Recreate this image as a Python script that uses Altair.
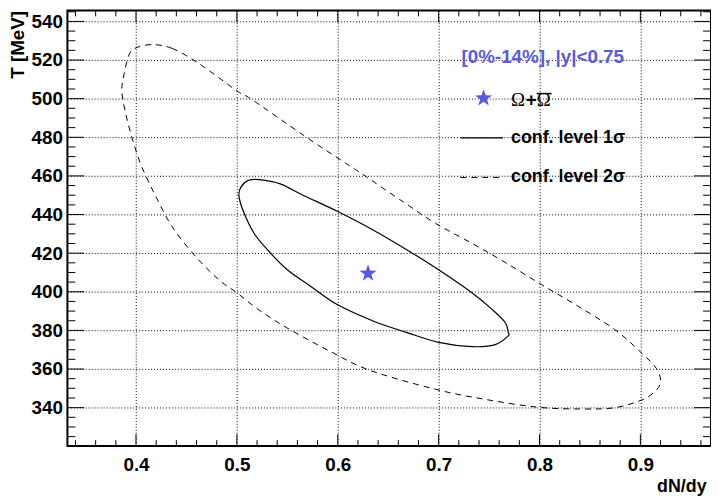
import altair as alt
import pandas as pd

# ---------------- data ----------------
# 1 sigma contour (solid)
c1_x = [0.522, 0.543, 0.566, 0.599, 0.635, 0.674, 0.700, 0.733, 0.753, 0.766, 0.769, 0.769,
        0.756, 0.733, 0.700, 0.668, 0.635, 0.599, 0.573, 0.550, 0.532, 0.517, 0.506, 0.502,
        0.504, 0.511]
c1_y = [458.1, 455.9, 449.9, 441.8, 432.0, 420.0, 411.4, 399.5, 390.9, 384.1, 379.0, 377.2,
        372.6, 371.6, 373.8, 379.0, 384.9, 393.5, 402.9, 411.4, 420.8, 430.3, 442.2, 449.9,
        454.2, 457.6]

# 2 sigma contour (dashed)
c2_x = [0.416, 0.436, 0.462, 0.501, 0.515, 0.567, 0.609, 0.622, 0.665, 0.697, 0.733, 0.766,
        0.802, 0.838, 0.875, 0.901, 0.916, 0.920, 0.914, 0.901, 0.875, 0.842, 0.799, 0.746,
        0.697, 0.632, 0.593, 0.549, 0.521, 0.500, 0.482, 0.459, 0.436, 0.420, 0.406, 0.397,
        0.390, 0.386, 0.388, 0.393, 0.400]
c2_y = [528.0, 526.0, 518.3, 503.7, 499.5, 480.7, 466.2, 461.8, 446.5, 435.4, 425.1, 415.2,
        403.7, 392.6, 380.3, 368.4, 360.2, 353.3, 348.2, 343.9, 340.0, 339.3, 340.2, 344.3,
        349.5, 359.3, 369.0, 381.5, 390.9, 399.5, 406.3, 418.3, 433.6, 449.0, 464.4, 478.1,
        491.8, 503.7, 512.3, 522.6, 526.3]

# best-fit point
star_x = [0.630]
star_y = [409.5]

# axis ticks
x_major = [0.4, 0.5, 0.6, 0.7, 0.8, 0.9]
x_minor = [0.34, 0.36, 0.38, 0.42, 0.44, 0.46, 0.48, 0.52, 0.54, 0.56, 0.58, 0.62, 0.64,
           0.66, 0.68, 0.72, 0.74, 0.76, 0.78, 0.82, 0.84, 0.86, 0.88, 0.92, 0.94, 0.96]
y_major = [340, 360, 380, 400, 420, 440, 460, 480, 500, 520, 540]
y_minor = [325, 330, 335, 345, 350, 355, 365, 370, 375, 385, 390, 395, 405, 410, 415, 425,
           430, 435, 445, 450, 455, 465, 470, 475, 485, 490, 495, 505, 510, 515, 525, 530,
           535, 545]

header_text = "[0%-14%], |y|<0.75"
omega_text = "\u03a9"
plus_text = "+"
label_1s = "conf. level 1\u03c3"
label_2s = "conf. level 2\u03c3"

# ---------------- chart ----------------
W, H = 650, 440
BLUE = "#5b5bd9"
FONT = "Liberation Sans"
STAR = ("M0,-1L0.235,-0.324L0.951,-0.309L0.38,0.124L0.588,0.809L0,0.4"
        "L-0.588,0.809L-0.38,0.124L-0.951,-0.309L-0.235,-0.324Z")

xs = alt.Scale(domain=[0.332, 0.970], nice=False, zero=False)
ys = alt.Scale(domain=[320.1, 545.7], nice=False, zero=False)

df1 = pd.DataFrame({"x": c1_x, "y": c1_y, "i": list(range(len(c1_x)))})
df2 = pd.DataFrame({"x": c2_x, "y": c2_y, "i": list(range(len(c2_x)))})
dfs = pd.DataFrame({"x": star_x, "y": star_y})
one = pd.DataFrame({"a": [0]})

x_axis = alt.Axis(values=x_major, format=".1f", title="dN/dy", grid=True, ticks=False,
                  domain=False, labelPadding=10, orient="bottom",
                  titleAnchor="end", titleAlign="right", titleBaseline="alphabetic",
                  titleFontSize=18, titleX=645, titleY=46)
y_axis = alt.Axis(values=y_major, format="d", title="T [MeV]", grid=True, ticks=False,
                  domain=False, labelPadding=5, orient="left",
                  titleAngle=270, titleAlign="right", titleBaseline="alphabetic",
                  titleX=-44, titleY=0)

X = alt.X("x:Q", scale=xs, axis=x_axis)
Y = alt.Y("y:Q", scale=ys, axis=y_axis)

c2 = alt.Chart(df2).mark_line(interpolate="cardinal-closed", color="black",
                              strokeWidth=1, strokeDash=[6, 5]).encode(
    x=X, y=Y, order="i:Q",
)
c1 = alt.Chart(df1).mark_line(interpolate="cardinal-closed", color="black",
                              strokeWidth=1.2).encode(
    x=X, y=Y, order="i:Q",
)
star = alt.Chart(dfs).mark_point(shape=STAR, filled=True, color=BLUE, size=330,
                                 opacity=1, strokeWidth=0).encode(x=X, y=Y)

def xticks(vals, length):
    d = pd.DataFrame({"x": vals})
    bot = alt.Chart(d).mark_rule(color="black", strokeWidth=1).encode(
        x=X, y=alt.value(H), y2=alt.value(H - length))
    top = alt.Chart(d).mark_rule(color="black", strokeWidth=1).encode(
        x=X, y=alt.value(0), y2=alt.value(length))
    return [bot, top]

def yticks(vals, length):
    d = pd.DataFrame({"y": vals})
    left = alt.Chart(d).mark_rule(color="black", strokeWidth=1).encode(
        y=Y, x=alt.value(0), x2=alt.value(length))
    right = alt.Chart(d).mark_rule(color="black", strokeWidth=1).encode(
        y=Y, x=alt.value(W), x2=alt.value(W - length))
    return [left, right]

ticks = xticks(x_major, 12) + xticks(x_minor, 6) + yticks(y_major, 17) + yticks(y_minor, 8)

def txt(s, x, y, color="black", size=18, font=FONT, weight="bold"):
    return alt.Chart(one).mark_text(text=s, align="left", baseline="middle", color=color,
                                    fontSize=size, font=font, fontWeight=weight).encode(
        x=alt.value(x), y=alt.value(y))

header = txt(header_text, 398, 47.5, color=BLUE, size=19)
leg_star = alt.Chart(one).mark_point(shape=STAR, filled=True, color=BLUE, size=330,
                                     opacity=1, strokeWidth=0).encode(
    x=alt.value(420.3), y=alt.value(88.7))
omega1 = txt(omega_text, 448, 90.5, size=19, font="Liberation Serif", weight="normal")
plus = txt(plus_text, 463, 90.5, size=19)
omega2 = txt(omega_text, 474, 90.5, size=19, font="Liberation Serif", weight="normal")
overline = alt.Chart(one).mark_rule(color="black", strokeWidth=1.5).encode(
    x=alt.value(474), x2=alt.value(489), y=alt.value(84))
leg1_line = alt.Chart(one).mark_rule(color="black", strokeWidth=1.2).encode(
    x=alt.value(397), x2=alt.value(440), y=alt.value(128.7))
leg1_txt = txt(label_1s, 448, 128.7)
leg2_line = alt.Chart(one).mark_rule(color="black", strokeWidth=1, strokeDash=[6, 5]).encode(
    x=alt.value(397), x2=alt.value(438), y=alt.value(168.7))
leg2_txt = txt(label_2s, 448, 168.7)

chart = alt.layer(
    c2, c1, star, *ticks, header, leg_star, omega1, plus, omega2, overline,
    leg1_line, leg1_txt, leg2_line, leg2_txt
).properties(
    width=W, height=H,
    autosize=alt.AutoSizeParams(type="none"),
    padding={"left": 60, "top": 0, "right": 0, "bottom": 50},
    background="white",
).configure_view(
    stroke="black", strokeWidth=2
).configure_axis(
    labelFont=FONT, labelFontSize=19, labelFontWeight="bold", labelColor="black",
    titleFont=FONT, titleFontSize=19, titleFontWeight="bold", titleColor="black",
    gridColor="black", gridDash=[1, 2], gridWidth=1, gridOpacity=1,
)

chart.save("out.html", embed_options={"renderer": "svg", "actions": False})
